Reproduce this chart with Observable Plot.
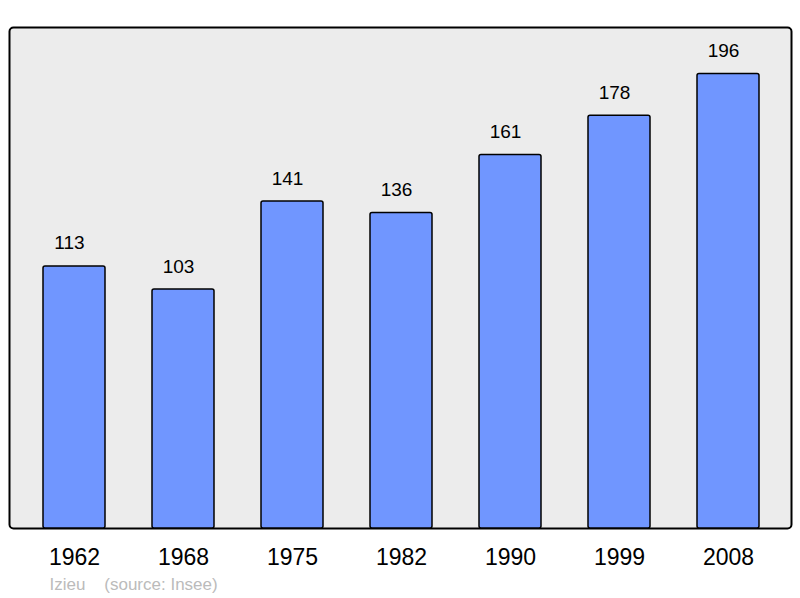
<!DOCTYPE html>
<html><head><meta charset="utf-8">
<script src="https://cdn.jsdelivr.net/npm/d3@7"></script>
<script src="https://cdn.jsdelivr.net/npm/@observablehq/plot@0.6"></script>
<style>body{margin:0;background:#fff;font-family:"Liberation Sans",Arial,sans-serif}</style>
</head><body><div id="chart"></div>
<script>
const years = ["1962","1968","1975","1982","1990","1999","2008"];
const population = [113,103,141,136,161,178,196];
const caption = "Izieu\u00a0\u00a0\u00a0\u00a0(source: Insee)";
const data = years.map((y,i)=>({year:y, pop:population[i]}));

const chart = Plot.plot({
  width: 800, height: 598,
  marginLeft: 9, marginRight: 9, marginTop: 27, marginBottom: 70,
  style: {fontFamily: '"Liberation Sans", Arial, sans-serif', background: "#fff"},
  x: {domain: years, range: [9.65, 793.35], paddingInner: 0.43, paddingOuter: 0.28, label: null},
  y: {domain: [0, 216], axis: null},
  marks: [
    Plot.frame({fill: "#ececec", stroke: "#000", strokeWidth: 2, rx: 4}),
    Plot.barY(data, {x: "year", y: "pop", fill: "#7096ff", stroke: "#000", strokeWidth: 1.5, rx: 2}),
    Plot.text(data, {x: "year", y: "pop", text: d => String(d.pop), dy: -23, dx: -5, fontSize: 19, fill: "#000"}),
    Plot.axisX({tickSize: 0, tickPadding: 20, fontSize: 23, color: "#000", label: null}),
    Plot.text([caption], {frameAnchor: "bottom-left", text: d => d, dx: 40, dy: 61, fontSize: 17, fill: "#bbb", textAnchor: "start"})
  ]
});
document.getElementById("chart").append(chart);
</script></body></html>
